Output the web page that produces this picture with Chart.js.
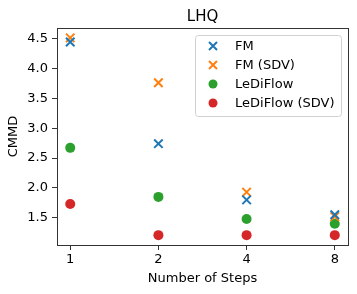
<!DOCTYPE html>
<html>
<head>
<meta charset="utf-8">
<script src="https://cdn.jsdelivr.net/npm/chart.js@4.4.1/dist/chart.umd.min.js"></script>
<style>
  html, body { margin: 0; padding: 0; background: #fff; }
  #wrap { width: 357px; height: 294px; }
</style>
</head>
<body>
<div id="wrap"><canvas id="chart" width="357" height="294"></canvas></div>
<script>
// Number of sampling steps (x, log2 spaced)
const steps = [1, 2, 4, 8];
const yTicks = [1.5, 2.0, 2.5, 3.0, 3.5, 4.0, 4.5];

// CMMD per method
const fm = [4.44, 2.74, 1.80, 1.55];
const fmSdv = [4.51, 3.76, 1.93, 1.52];
const lediflow = [2.67, 1.85, 1.48, 1.40];
const lediflowSdv = [1.73, 1.21, 1.21, 1.21];

const FONT = 'DejaVu Sans, sans-serif';

function pts(vals) {
  return steps.map((s, i) => ({ x: s, y: vals[i] }));
}

// title centred over the axes, not the whole canvas
const axesTitle = {
  id: 'axesTitle',
  afterDraw(chart) {
    const { ctx, chartArea: a } = chart;
    ctx.save();
    ctx.font = '15px ' + FONT;
    ctx.fillStyle = '#000';
    ctx.textAlign = 'center';
    ctx.textBaseline = 'alphabetic';
    ctx.fillText('LHQ', (a.left + a.right) / 2, 21);
    ctx.restore();
  }
};

// matplotlib-style legend drawn inside the axes, top right
const innerLegend = {
  id: 'innerLegend',
  afterDatasetsDraw(chart) {
    const { ctx, chartArea } = chart;
    const w = 146, h = 81;
    const x0 = chartArea.right - 7 - w;
    const y0 = chartArea.top + 7;
    ctx.save();
    ctx.beginPath();
    ctx.roundRect(x0 + 0.5, y0 + 0.5, w, h, 3);
    ctx.fillStyle = 'rgba(255,255,255,0.8)';
    ctx.fill();
    ctx.strokeStyle = '#d0d0d0';
    ctx.lineWidth = 1;
    ctx.stroke();
    ctx.font = '13px ' + FONT;
    ctx.textBaseline = 'middle';
    ctx.textAlign = 'left';
    chart.data.datasets.forEach((ds, i) => {
      const cy = y0 + 11 + i * 19;
      const cx = x0 + 18;
      ctx.strokeStyle = ds.borderColor;
      ctx.fillStyle = ds.backgroundColor;
      if (ds.pointStyle === 'crossRot') {
        ctx.lineWidth = 2;
        ctx.beginPath();
        ctx.moveTo(cx - 4, cy - 4); ctx.lineTo(cx + 4, cy + 4);
        ctx.moveTo(cx - 4, cy + 4); ctx.lineTo(cx + 4, cy - 4);
        ctx.stroke();
      } else {
        ctx.beginPath();
        ctx.arc(cx, cy, 4.5, 0, Math.PI * 2);
        ctx.fill();
      }
      ctx.fillStyle = '#000';
      ctx.fillText(ds.label, x0 + 40, cy + 0.5);
    });
    ctx.restore();
  }
};

// full box around the axes
const frame = {
  id: 'frame',
  afterDraw(chart) {
    const { ctx, chartArea: a } = chart;
    ctx.save();
    ctx.strokeStyle = '#333';
    ctx.lineWidth = 1;
    ctx.strokeRect(a.left + 0.5, a.top + 0.5, a.right - a.left, a.bottom - a.top);
    ctx.restore();
  }
};

new Chart(document.getElementById('chart'), {
  type: 'scatter',
  data: {
    datasets: [
      { label: 'FM', data: pts(fm), pointStyle: 'crossRot', pointRadius: 6, borderWidth: 2,
        borderColor: '#1f77b4', backgroundColor: '#1f77b4' },
      { label: 'FM (SDV)', data: pts(fmSdv), pointStyle: 'crossRot', pointRadius: 6, borderWidth: 2,
        borderColor: '#ff7f0e', backgroundColor: '#ff7f0e' },
      { label: 'LeDiFlow', data: pts(lediflow), pointStyle: 'circle', pointRadius: 5, borderWidth: 0,
        borderColor: '#2ca02c', backgroundColor: '#2ca02c' },
      { label: 'LeDiFlow (SDV)', data: pts(lediflowSdv), pointStyle: 'circle', pointRadius: 5, borderWidth: 0,
        borderColor: '#d62728', backgroundColor: '#d62728' }
    ]
  },
  options: {
    responsive: false,
    animation: false,
    events: [],
    layout: { padding: { left: 0, right: 9, top: 28, bottom: 0 } },
    plugins: {
      legend: { display: false },
      tooltip: { enabled: false },
      title: { display: false }
    },
    scales: {
      x: {
        type: 'logarithmic',
        min: Math.pow(2, -0.15),
        max: Math.pow(2, 3.15),
        afterBuildTicks(scale) { scale.ticks = steps.map(v => ({ value: v })); },
        afterFit(scale) { scale.height = 49; },
        grid: { drawOnChartArea: false, drawTicks: true, tickLength: 5, color: '#333' },
        border: { display: true, color: '#333' },
        ticks: {
          color: '#000', padding: 2, maxRotation: 0, autoSkip: false,
          font: { family: FONT, size: 13 },
          callback: v => String(v)
        },
        title: {
          display: true, text: 'Number of Steps', color: '#000',
          font: { family: FONT, size: 13 }, padding: { top: 2, bottom: 8 }
        }
      },
      y: {
        min: 1.045,
        max: 4.675,
        afterBuildTicks(scale) { scale.ticks = yTicks.map(v => ({ value: v })); },
        afterFit(scale) { scale.width = 57; },
        grid: { drawOnChartArea: false, drawTicks: true, tickLength: 5, color: '#333' },
        border: { display: true, color: '#333' },
        ticks: {
          color: '#000', padding: 4,
          font: { family: FONT, size: 13 },
          callback: v => Number(v).toFixed(1)
        },
        title: {
          display: true, text: 'CMMD', color: '#000',
          font: { family: FONT, size: 13 }, padding: { top: 6, bottom: 2 }
        }
      }
    }
  },
  plugins: [innerLegend, frame, axesTitle]
});
</script>
</body>
</html>
